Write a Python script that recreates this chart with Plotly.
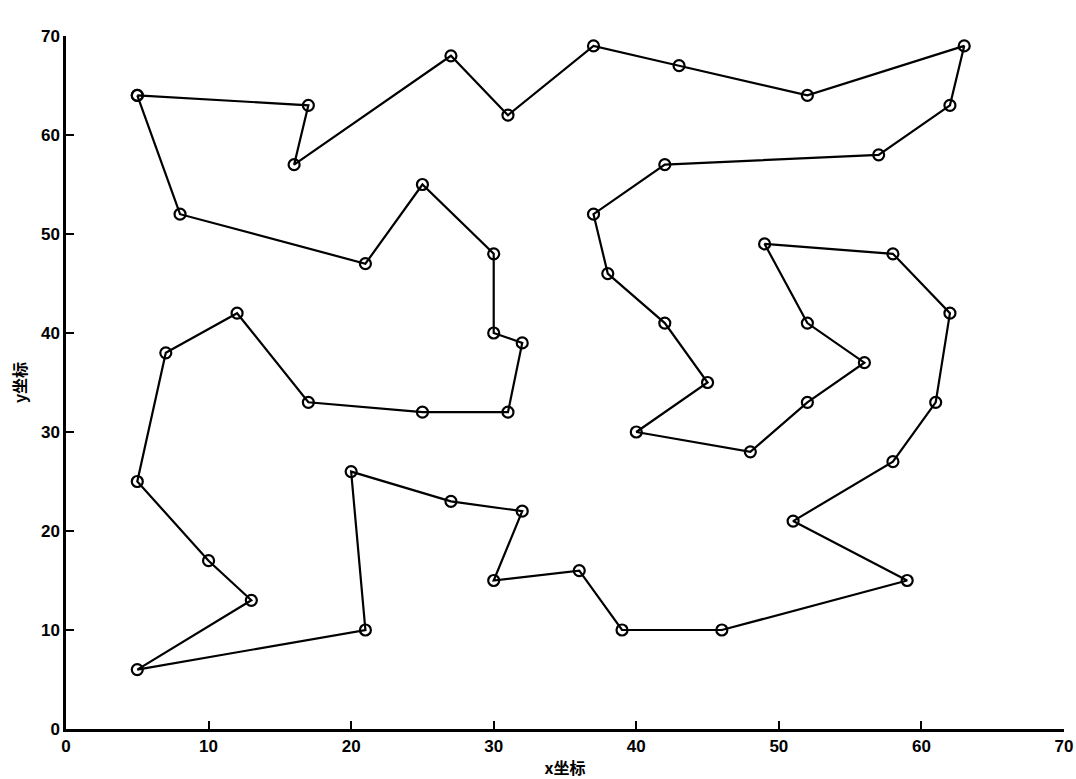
import plotly.graph_objects as go

# Tour order of cities (x, y)
route_x = [5, 17, 16, 27, 31, 37, 43, 52, 63, 62, 57, 42, 37, 38, 42, 45, 40, 48, 52, 56,
           52, 49, 58, 62, 61, 58, 51, 59, 46, 39, 36, 30, 32, 27, 20, 21, 5, 13, 10, 5,
           7, 12, 17, 25, 31, 32, 30, 30, 25, 21, 8, 5]
route_y = [64, 63, 57, 68, 62, 69, 67, 64, 69, 63, 58, 57, 52, 46, 41, 35, 30, 28, 33, 37,
           41, 49, 48, 42, 33, 27, 21, 15, 10, 10, 16, 15, 22, 23, 26, 10, 6, 13, 17, 25,
           38, 42, 33, 32, 32, 39, 40, 48, 55, 47, 52, 64]
tick_vals = [0, 10, 20, 30, 40, 50, 60, 70]

fig = go.Figure()
fig.add_trace(go.Scatter(
    x=route_x, y=route_y, mode="lines+markers",
    line=dict(color="black", width=2.2),
    marker=dict(symbol="circle-open", size=11, color="black", line=dict(width=2.2)),
    showlegend=False, hoverinfo="x+y"))

axis_common = dict(
    range=[0, 70], tickvals=tick_vals,
    ticktext=["<b>%d</b>" % v for v in tick_vals],
    ticks="inside", ticklen=8, tickwidth=2, tickcolor="black",
    showline=True, linecolor="black", linewidth=2.5, mirror=False,
    showgrid=False, zeroline=False, automargin=False,
    tickfont=dict(family="Liberation Sans, Arial", size=17, color="black"),
)

fig.update_layout(
    width=1076, height=779,
    margin=dict(l=66, r=12, t=36, b=50),
    plot_bgcolor="white", paper_bgcolor="white",
    xaxis=dict(**axis_common,
               title=dict(text="<b>x坐标</b>", standoff=8,
                          font=dict(family="Noto Sans CJK SC", size=16, color="black"))),
    yaxis=dict(**axis_common,
               title=dict(text="<b>y坐标</b>", standoff=11,
                          font=dict(family="Noto Sans CJK SC", size=16, color="black"))),
)
fig.write_html("out.html",
               config={"displayModeBar": False},
               post_script="document.body.style.margin='0px';document.body.style.overflow='hidden';")
